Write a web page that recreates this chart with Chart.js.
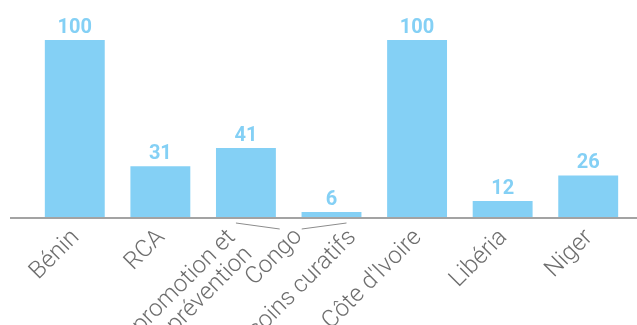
<!DOCTYPE html>
<html>
<head>
<meta charset="utf-8">
<script src="https://cdn.jsdelivr.net/npm/chart.js@4/dist/chart.umd.min.js"></script>
<style>
    html, body { margin: 0; padding: 0; background: #fff; }
    #wrap { width: 637px; height: 325px; }
</style>
</head>
<body>
<div id="wrap"><canvas id="chart"></canvas></div>
<script>
    "use strict";

    // one bar per entry; Congo is split in two bars
    var barLabels = ['Bénin', 'RCA', ['promotion et', 'prévention'], 'soins curatifs', "Côte d'Ivoire", 'Libéria', 'Niger'];
    var barValues = [100, 31, 41, 6, 100, 12, 26];

    // group label drawn under the two Congo bars
    var groupLabel = 'Congo';
    var groupBars = [2, 3];

    var barColor = '#84d0f5';
    var textColor = '#6e6e6e';
    var fontFamily = 'Roboto, "Liberation Sans", sans-serif';

    // value labels above bars
    var valueLabels = {
        id: 'valueLabels',
        afterDatasetsDraw: function (chart) {
            var ctx = chart.ctx;
            var meta = chart.getDatasetMeta(0);
            ctx.save();
            ctx.fillStyle = barColor;
            ctx.font = 'bold 20px ' + fontFamily;
            ctx.textAlign = 'center';
            ctx.textBaseline = 'alphabetic';
            meta.data.forEach(function (bar, i) {
                ctx.fillText(barValues[i], bar.x, bar.y - 7);
            });
            ctx.restore();
        }
    };

    // baseline + rotated category labels
    var axisLabels = {
        id: 'axisLabels',
        afterDraw: function (chart) {
            var ctx = chart.ctx;
            var xs = chart.scales.x;
            var base = chart.chartArea.bottom;
            var lh = 24;

            ctx.save();
            ctx.strokeStyle = '#a3a3a3';
            ctx.lineWidth = 2;
            ctx.beginPath();
            ctx.moveTo(10, base + 1);
            ctx.lineTo(chart.width, base + 1);
            ctx.stroke();

            ctx.fillStyle = textColor;
            ctx.font = '300 24px ' + fontFamily;
            ctx.textAlign = 'right';
            ctx.textBaseline = 'middle';

            function drawRotated(text, x, y) {
                var lines = Array.isArray(text) ? text : [text];
                ctx.save();
                ctx.translate(x, y);
                ctx.rotate(-Math.PI / 4);
                lines.forEach(function (line, k) {
                    ctx.fillText(line, 0, k * lh);
                });
                ctx.restore();
            }

            // the two Congo sub-labels are pushed apart
            var shift = {2: -15, 3: 20};
            barLabels.forEach(function (label, i) {
                var cx = xs.getPixelForValue(i) + 1 + (shift[i] || 0);
                drawRotated(label, cx, base + 17);
            });

            // Congo label between its two bars, with leader lines
            var left = xs.getPixelForValue(groupBars[0]);
            var right = xs.getPixelForValue(groupBars[1]);
            var gx = (left + right) / 2 + 10;
            drawRotated(groupLabel, gx, base + 16);

            ctx.strokeStyle = '#8c8c8c';
            ctx.lineWidth = 1;
            ctx.beginPath();
            ctx.moveTo(left - 10, base + 6);
            ctx.lineTo(gx - 19, base + 12);
            ctx.moveTo(gx + 3, base + 12);
            ctx.lineTo(right + 15, base + 6);
            ctx.stroke();
            ctx.restore();
        }
    };

    var ctx = document.getElementById('chart').getContext('2d');
    var chart = new Chart(ctx, {
        type: 'bar',
        data: {
            labels: barLabels,
            datasets: [{
                data: barValues,
                backgroundColor: barColor,
                borderWidth: 0,
                barPercentage: 0.7,
                categoryPercentage: 1
            }]
        },
        options: {
            responsive: true,
            maintainAspectRatio: false,
            animation: false,
            layout: {padding: {left: 32, right: 6, top: 0, bottom: 108}},
            plugins: {legend: {display: false}, tooltip: {enabled: false}},
            scales: {
                x: {display: false},
                y: {display: false, min: 3.3, max: 121.9}
            }
        },
        plugins: [valueLabels, axisLabels]
    });
</script>
</body>
</html>
